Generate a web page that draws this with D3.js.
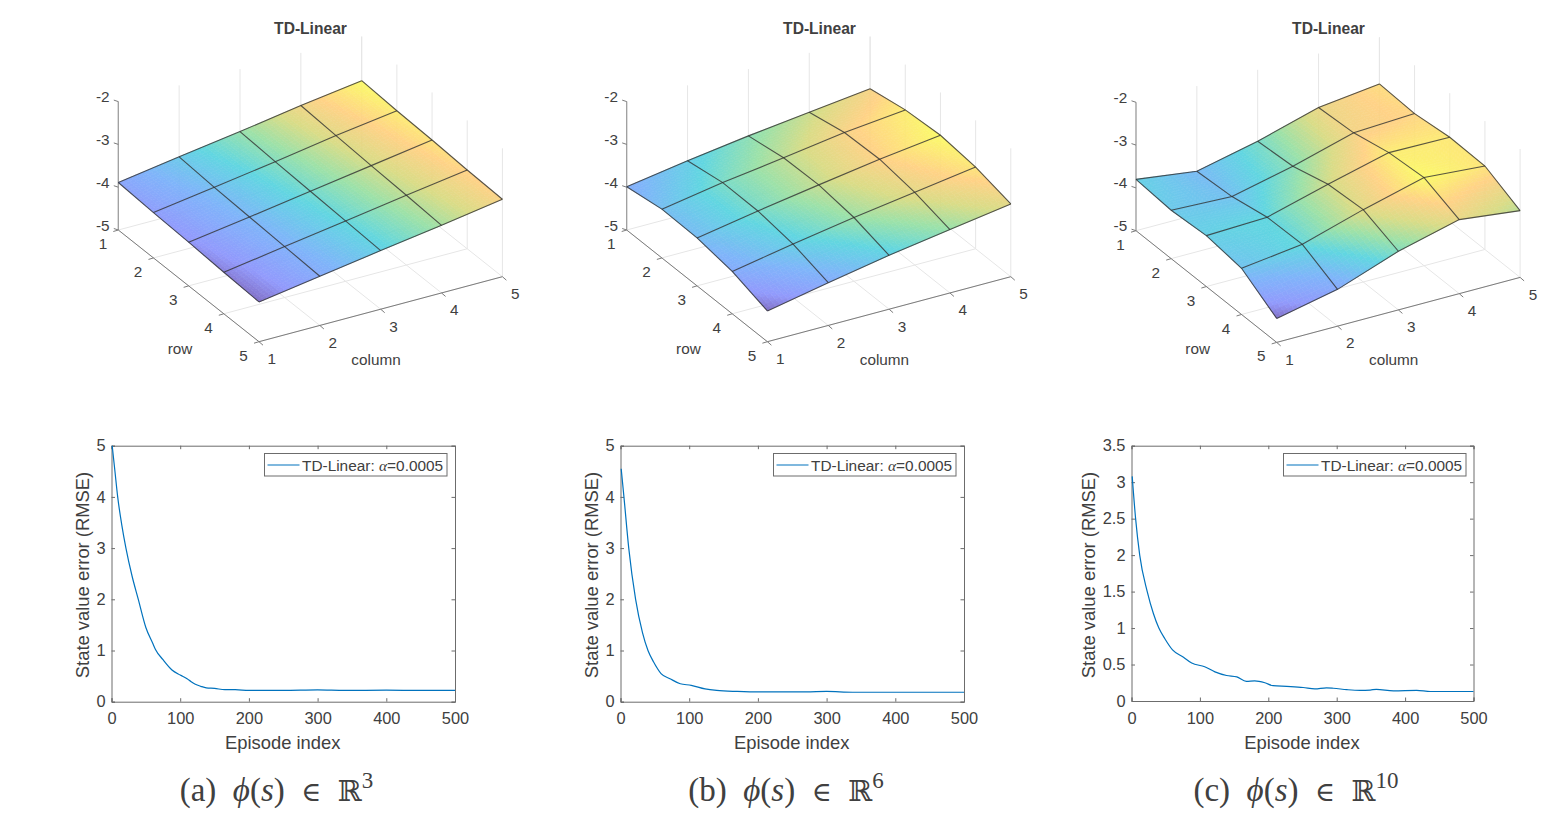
<!DOCTYPE html>
<html>
<head>
<meta charset="utf-8">
<title>TD-Linear value estimates and RMSE</title>
<script src="https://cdnjs.cloudflare.com/ajax/libs/d3/7.8.5/d3.min.js"></script>
<style>
  html, body { margin: 0; padding: 0; background: #fff; }
  svg { display: block; }
  text { font-family: "Liberation Sans", Arial, sans-serif; fill: #404040; }
</style>
</head>
<body>
<svg id="chart" width="1567" height="822"></svg>
<script>
// Estimated state values on the 5x5 grid (rows top to bottom, columns left to right)
const surfaceA = [
  [-3.89, -3.67, -3.46, -3.23, -3.03],
  [-3.94, -3.73, -3.51, -3.28, -3.08],
  [-3.98, -3.77, -3.55, -3.33, -3.11],
  [-4.03, -3.81, -3.59, -3.37, -3.16],
  [-4.07, -3.85, -3.63, -3.42, -3.19]
];
const surfaceB = [
  [-3.99, -3.76, -3.56, -3.39, -3.22],
  [-3.86, -3.62, -3.42, -3.21, -3.06],
  [-3.88, -3.63, -3.40, -3.18, -3.00],
  [-4.01, -3.75, -3.51, -3.30, -3.09],
  [-4.28, -4.00, -3.74, -3.52, -3.30]
];
const surfaceC = [
  [-3.80, -3.99, -3.67, -3.26, -3.09],
  [-3.87, -3.93, -3.60, -3.20, -3.13],
  [-3.81, -3.76, -3.37, -3.01, -3.03],
  [-3.92, -3.74, -3.31, -2.94, -3.05],
  [-4.44, -4.14, -3.63, -3.27, -3.44]
];

// RMSE learning curves: episode index and error
const episodesA = [1, 5, 9, 15, 21, 30, 39, 50, 60, 64, 75, 88, 100, 110, 116, 122, 130, 138, 150, 165, 180, 200, 250, 300, 340, 400, 450, 500];
const rmseA = [5.0, 4.5, 4.0, 3.45, 3.0, 2.45, 2.0, 1.45, 1.14, 1.02, 0.82, 0.62, 0.52, 0.45, 0.39, 0.34, 0.30, 0.27, 0.26, 0.235, 0.235, 0.22, 0.22, 0.23, 0.22, 0.225, 0.22, 0.22];
const episodesB = [1, 5, 12, 22, 32, 40, 48, 59, 72, 87, 103, 123, 140, 170, 203, 270, 300, 338, 400, 500];
const rmseB = [4.55, 4.0, 3.0, 2.0, 1.35, 1.0, 0.78, 0.55, 0.45, 0.35, 0.32, 0.25, 0.22, 0.20, 0.19, 0.19, 0.20, 0.185, 0.185, 0.185];
const episodesC = [1, 6, 12, 23, 32, 40, 49, 60, 76, 88, 107, 122, 139, 154, 168, 180, 195, 207, 227, 251, 268, 285, 295, 315, 334, 349, 358, 383, 417, 437, 500];
const rmseC = [3.08, 2.5, 2.0, 1.5, 1.2, 1.0, 0.85, 0.7, 0.6, 0.52, 0.47, 0.4, 0.35, 0.33, 0.27, 0.275, 0.25, 0.21, 0.2, 0.185, 0.165, 0.18, 0.175, 0.155, 0.145, 0.15, 0.16, 0.14, 0.145, 0.13, 0.13];

const gridTicks = [1, 2, 3, 4, 5];
const zTicks = [-5, -4, -3, -2];
const xTicksCurve = [0, 100, 200, 300, 400, 500];
const yTicksAB = [0, 1, 2, 3, 4, 5];
const yTicksC = [0, 0.5, 1, 1.5, 2, 2.5, 3, 3.5];
const captionLetters = ["(a)", "(b)", "(c)"];
const captionDims = ["3", "6", "10"];

// Colour ramp for surface height, normalised to each surface's own range
const rampStops = [0, 0.1, 0.27, 0.45, 0.6, 0.73, 0.86, 1];
const rampColors = ["#7a68c4", "#8c94fc", "#78b0fa", "#58d4e0", "#96e0a4", "#d8da80", "#ffd080", "#fbfb62"];

const svg = d3.select("#chart");

// Oblique projection of (row, column, z): each data axis maps to a screen offset
const colX = d3.scaleLinear([1, 5], [0, 243.4]);
const colY = d3.scaleLinear([1, 5], [0, -65]);
const rowX = d3.scaleLinear([1, 5], [0, 140.7]);
const rowY = d3.scaleLinear([1, 5], [0, 111.7]);
const zY = d3.scaleLinear([-5, -2], [0, -128.4]);

function drawSurfacePanel(values, ox, oy, titleX) {
  const g = svg.append("g").attr("transform", `translate(${ox},${oy})`);
  const px = (r, c) => rowX(r) + colX(c);
  const py = (r, c, z) => rowY(r) + colY(c) + zY(z);
  const pt = (r, c, z) => [px(r, c), py(r, c, z)];
  const link = (a, b) => `M${a[0]},${a[1]}L${b[0]},${b[1]}`;

  // Floor grid and the vertical rules on the two back walls
  const gridPaths = [];
  gridTicks.forEach(t => {
    gridPaths.push(link(pt(t, 1, -5), pt(t, 5, -5)));
    gridPaths.push(link(pt(1, t, -5), pt(5, t, -5)));
    gridPaths.push(link(pt(1, t, -5), pt(1, t, -2)));
    gridPaths.push(link(pt(t, 5, -5), pt(t, 5, -2)));
  });
  g.append("path").attr("d", gridPaths.join("")).attr("fill", "none")
    .attr("stroke", "#e6e6e6").attr("stroke-width", 1);

  // Axis lines with tick marks
  const ax = g.append("g").attr("fill", "none");
  ax.append("path").attr("d", link(pt(1, 1, -5), pt(1, 1, -2))).attr("stroke", "#9a9a9a").attr("stroke-width", 1.2);
  const axisPaths = [link(pt(1, 1, -5), pt(5, 1, -5)), link(pt(5, 1, -5), pt(5, 5, -5))];
  gridTicks.forEach(t => {
    const a = pt(t, 1, -5), b = pt(5, t, -5);
    axisPaths.push(link(a, [a[0] - 5, a[1] + 1.5]));
    axisPaths.push(link(b, [b[0] + 4, b[1] + 3.5]));
  });
  zTicks.forEach(z => {
    const a = pt(1, 1, z);
    axisPaths.push(link(a, [a[0] - 4.5, a[1] - 1.5]));
  });
  ax.append("path").attr("d", axisPaths.join("")).attr("stroke", "#7c7c7c").attr("stroke-width", 1);

  // Tick labels and axis titles
  const label = (x, y, s) => g.append("text").attr("x", x).attr("y", y).attr("dy", "0.36em")
    .attr("text-anchor", "middle").attr("font-size", 15.3).text(s);
  zTicks.forEach(z => { const a = pt(1, 1, z); label(a[0] - 15.6, a[1] - 5, z); });
  gridTicks.forEach(t => {
    const a = pt(t, 1, -5); label(a[0] - 15.4, a[1] + 13.6, t);
    const b = pt(5, t, -5); label(b[0] + 12.8, b[1] + 16.8, t);
  });
  label(61.7, 118, "row");
  label(257.7, 129, "column");

  // Interpolated surface: each grid cell is subdivided and filled by height
  const flat = values.flat();
  const extent = d3.extent(flat);
  const norm = d3.scaleLinear(extent, [0, 1]);
  const color = d3.scaleLinear(rampStops, rampColors).interpolate(d3.interpolateRgb);
  const bilinear = (r, c) => {
    const r0 = Math.min(Math.floor(r), 4), c0 = Math.min(Math.floor(c), 4);
    const u = r - r0, v = c - c0;
    const at = (i, j) => values[i - 1][j - 1];
    return (1 - u) * ((1 - v) * at(r0, c0) + v * at(r0, c0 + 1)) +
           u * ((1 - v) * at(r0 + 1, c0) + v * at(r0 + 1, c0 + 1));
  };
  const sub = 14;
  const patches = [];
  for (let r = 1; r < 5; r++) for (let c = 1; c < 5; c++) {
    for (let i = 0; i < sub; i++) for (let j = 0; j < sub; j++) {
      const r0 = r + i / sub, r1 = r + (i + 1) / sub, c0 = c + j / sub, c1 = c + (j + 1) / sub;
      const corner = (a, b) => pt(a, b, bilinear(a, b));
      const mean = bilinear((r0 + r1) / 2, (c0 + c1) / 2);
      patches.push({ poly: [corner(r0, c0), corner(r0, c1), corner(r1, c1), corner(r1, c0)], fill: color(norm(mean)) });
    }
  }
  g.append("g").attr("opacity", 0.94).selectAll("polygon").data(patches).join("polygon")
    .attr("points", d => d.poly.join(" "))
    .attr("fill", d => d.fill).attr("stroke", d => d.fill).attr("stroke-width", 0.6);

  // Mesh lines along rows and columns
  const meshLine = d3.line().x(d => d[0]).y(d => d[1]);
  const mesh = g.append("g").attr("fill", "none").attr("stroke", "#303030")
    .attr("stroke-width", 1.1).attr("stroke-opacity", 0.8);
  gridTicks.forEach(t => {
    mesh.append("path").attr("d", meshLine(gridTicks.map(c => pt(t, c, values[t - 1][c - 1]))));
    mesh.append("path").attr("d", meshLine(gridTicks.map(r => pt(r, t, values[r - 1][t - 1]))));
  });

  svg.append("text").attr("x", titleX).attr("y", 28.5).attr("dy", "0.36em").attr("text-anchor", "middle")
    .attr("font-size", 15.6).attr("font-weight", "bold").attr("fill", "#222").text("TD-Linear");
}

function drawCurvePanel(episodes, rmse, yTicks, yMax, box, legendX, labelX) {
  const x = d3.scaleLinear([0, 500], [box.left, box.right]);
  const y = d3.scaleLinear([0, yMax], [box.bottom, box.top]);
  const g = svg.append("g");
  const tick = 3.5;
  const fmt = d => String(d);
  const styleAxis = sel => {
    sel.selectAll("path").attr("stroke", "#6c6c6c").attr("stroke-width", 1);
    sel.selectAll("line").attr("stroke", "#6c6c6c").attr("stroke-width", 1);
    sel.selectAll("text").attr("font-size", 16.4).attr("fill", "#404040");
  };
  g.append("g").attr("transform", `translate(0,${box.bottom})`)
    .call(d3.axisBottom(x).tickValues(xTicksCurve).tickFormat(fmt).tickSize(-tick).tickPadding(11)).call(styleAxis);
  g.append("g").attr("transform", `translate(${box.left},0)`)
    .call(d3.axisLeft(y).tickValues(yTicks).tickFormat(fmt).tickSize(-tick).tickPadding(6)).call(styleAxis);
  g.append("g").attr("transform", `translate(0,${box.top})`)
    .call(d3.axisTop(x).tickValues(xTicksCurve).tickFormat("").tickSize(-tick)).call(styleAxis);
  g.append("g").attr("transform", `translate(${box.right},0)`)
    .call(d3.axisRight(y).tickValues(yTicks).tickFormat("").tickSize(-tick)).call(styleAxis);

  const line = d3.line().x((d, i) => x(episodes[i])).y(d => y(d)).curve(d3.curveMonotoneX);
  g.append("path").attr("d", line(rmse)).attr("fill", "none").attr("stroke", "#0072bd").attr("stroke-width", 1.2);

  g.append("text").attr("x", (box.left + box.right) / 2 - 0.5).attr("y", 742.5).attr("dy", "0.36em")
    .attr("text-anchor", "middle").attr("font-size", 18.4).text("Episode index");
  g.append("text").attr("transform", `translate(${labelX},575) rotate(-90)`).attr("dy", "0.36em")
    .attr("text-anchor", "middle").attr("font-size", 18.4).text("State value error (RMSE)");

  // Legend
  const lg = g.append("g").attr("transform", `translate(${legendX},453.5)`);
  lg.append("rect").attr("width", 182.5).attr("height", 22.5).attr("fill", "#fff").attr("stroke", "#6c6c6c");
  lg.append("line").attr("x1", 3).attr("x2", 35).attr("y1", 11.5).attr("y2", 11.5).attr("stroke", "#0072bd").attr("stroke-width", 1.2);
  const t = lg.append("text").attr("x", 37.5).attr("y", 11.5).attr("dy", "0.36em").attr("font-size", 15.4);
  t.append("tspan").text("TD-Linear: ");
  t.append("tspan").attr("font-family", "'Liberation Serif', serif").attr("font-style", "italic").text("α");
  t.append("tspan").text("=0.0005");
}

function drawCaption(cx, letter, dim) {
  const t = svg.append("text").attr("x", cx).attr("y", 801).attr("text-anchor", "middle")
    .attr("font-size", 33).attr("fill", "#111").style("font-family", "'Liberation Serif', serif");
  t.append("tspan").text(letter + "\u2002");
  t.append("tspan").attr("font-style", "italic").text("\u03d5");
  t.append("tspan").text("(");
  t.append("tspan").attr("font-style", "italic").text("s");
  t.append("tspan").text(")\u2002");
  t.append("tspan").style("font-family", "'DejaVu Serif', serif").attr("font-size", 27).text("\u2208");
  t.append("tspan").text("\u2002");
  t.append("tspan").style("font-family", "'DejaVu Serif', serif").attr("font-size", 29).text("\u211d");
  t.append("tspan").attr("font-size", 23).attr("dy", -13).text(dim);
}

drawSurfacePanel(surfaceA, 118.3, 230, 310.5);
drawSurfacePanel(surfaceB, 626.7, 230, 819.5);
drawSurfacePanel(surfaceC, 1136, 230.7, 1328.5);

drawCurvePanel(episodesA, rmseA, yTicksAB, 5, { left: 111.5, right: 455, top: 445.7, bottom: 701.7 }, 264.5, 82.7);
drawCurvePanel(episodesB, rmseB, yTicksAB, 5, { left: 620.5, right: 964, top: 445.7, bottom: 701.7 }, 773.5, 591.7);
drawCurvePanel(episodesC, rmseC, yTicksC, 3.5, { left: 1131.5, right: 1473.5, top: 445.7, bottom: 701 }, 1283.5, 1088.3);

drawCaption(276.5, captionLetters[0], captionDims[0]);
drawCaption(786, captionLetters[1], captionDims[1]);
drawCaption(1296, captionLetters[2], captionDims[2]);
</script>
</body>
</html>
